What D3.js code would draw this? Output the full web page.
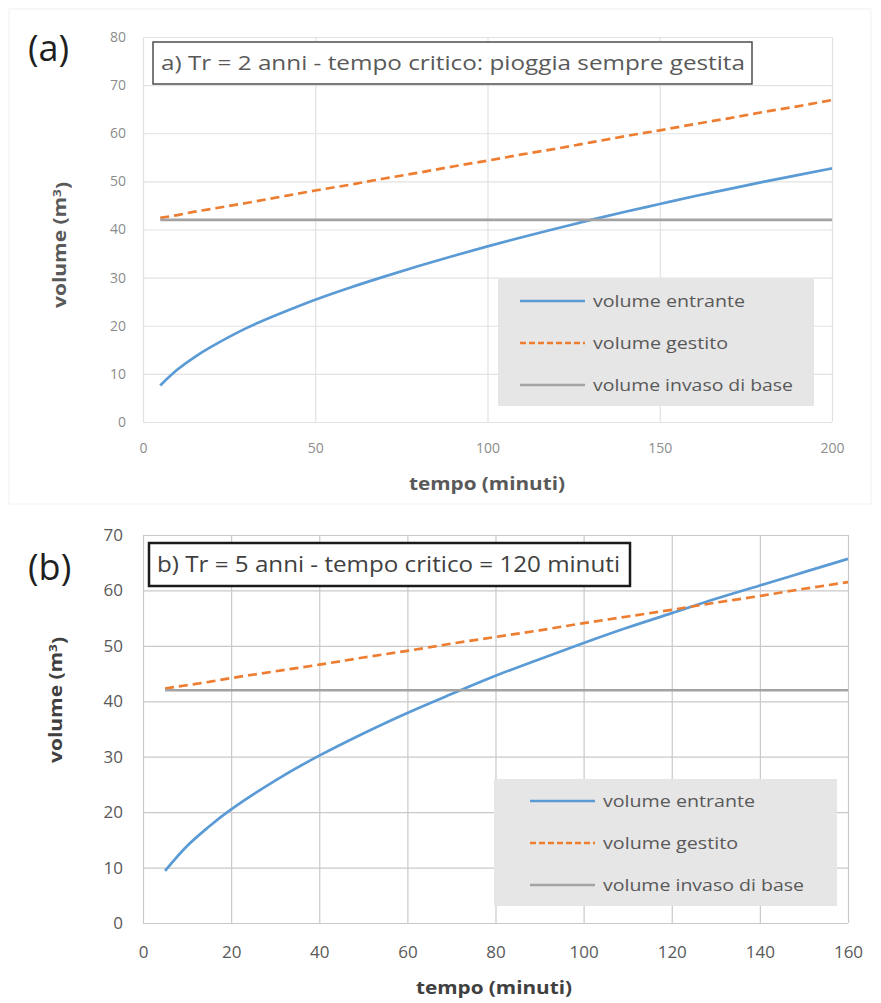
<!DOCTYPE html>
<html>
<head>
<meta charset="utf-8">
<script src="https://cdn.jsdelivr.net/npm/d3@7"></script>
<style>
  body { margin: 0; background: #fff; }
  svg { display: block; font-family: "Open Sans", "Noto Sans", sans-serif; }
</style>
</head>
<body>
<svg id="chart" width="881" height="1003"></svg>
<script>
// panel (a) - Tr = 2 anni
const timeA = [5, 10, 15, 20, 30, 40, 50, 60, 70, 80, 90, 100, 110, 120, 130, 140, 150, 160, 170, 180, 190, 200];
const entranteA = [7.6, 10.9, 13.5, 15.7, 19.5, 22.6, 25.4, 27.9, 30.2, 32.4, 34.5, 36.5, 38.4, 40.2, 42.0, 43.7, 45.3, 46.9, 48.4, 49.9, 51.3, 52.7];
const gestitoA = [42.4, 43.0, 43.7, 44.3, 45.5, 46.8, 48.1, 49.3, 50.6, 51.8, 53.1, 54.3, 55.6, 56.8, 58.1, 59.4, 60.6, 61.9, 63.1, 64.4, 65.6, 66.9];
const baseTimeA = [5, 200];
const baseA = [42, 42];
const xTicksA = [0, 50, 100, 150, 200];
const yTicksA = [0, 10, 20, 30, 40, 50, 60, 70, 80];

// panel (b) - Tr = 5 anni
const timeB = [5, 10, 15, 20, 30, 40, 50, 60, 70, 80, 90, 100, 110, 120, 130, 140, 150, 160];
const entranteB = [9.4, 13.9, 17.4, 20.5, 25.7, 30.2, 34.2, 37.9, 41.3, 44.6, 47.6, 50.5, 53.3, 55.9, 58.5, 60.9, 63.3, 65.7];
const gestitoB = [42.3, 42.9, 43.5, 44.2, 45.4, 46.6, 47.9, 49.1, 50.4, 51.6, 52.8, 54.1, 55.3, 56.5, 57.8, 59.0, 60.3, 61.5];
const baseTimeB = [5, 160];
const baseB = [42, 42];
const xTicksB = [0, 20, 40, 60, 80, 100, 120, 140, 160];
const yTicksB = [0, 10, 20, 30, 40, 50, 60, 70];

const seriesNames = ['volume entrante', 'volume gestito', 'volume invaso di base'];
const COLORS = { entrante: '#5b9bd5', gestito: '#ed7d31', base: '#a3a3a3' };

const svg = d3.select('#chart');

// faint frame round the upper chart
svg.append('rect').attr('x', 9).attr('y', 9).attr('width', 862).attr('height', 495)
  .attr('fill', 'none').attr('stroke', '#f2f2f2');

function drawPanel(p) {
  const g = svg.append('g');
  const x = d3.scaleLinear().domain([0, p.xTicks[p.xTicks.length - 1]]).range([p.left, p.right]);
  const y = d3.scaleLinear().domain([0, p.yTicks[p.yTicks.length - 1]]).range([p.bottom, p.top]);

  // grid
  const gy = g.append('g').attr('transform', `translate(${p.left},0)`)
    .call(d3.axisLeft(y).tickValues(p.yTicks).tickSize(-(p.right - p.left)).tickFormat(''));
  const gx = g.append('g').attr('transform', `translate(0,${p.bottom})`)
    .call(d3.axisBottom(x).tickValues(p.xTicks).tickSize(-(p.bottom - p.top)).tickFormat(''));
  [gy, gx].forEach(a => {
    a.select('.domain').remove();
    a.selectAll('line').attr('stroke', p.grid).attr('stroke-width', 1.2);
  });

  // tick labels
  const ly = g.append('g').attr('transform', `translate(${p.left},0)`)
    .call(d3.axisLeft(y).tickValues(p.yTicks).tickSize(0).tickPadding(p.padY));
  const lx = g.append('g').attr('transform', `translate(0,${p.bottom})`)
    .call(d3.axisBottom(x).tickValues(p.xTicks).tickSize(0).tickPadding(p.padX));
  [ly, lx].forEach(a => {
    a.select('.domain').remove();
    a.selectAll('text').attr('fill', p.tickColor).style('font-size', p.tickSize + 'px')
      .style('font-family', '"Open Sans", "Noto Sans", sans-serif');
  });

  // series
  const smooth = d3.line().x(d => x(d[0])).y(d => y(d[1])).curve(d3.curveNatural);
  const straight = d3.line().x(d => x(d[0])).y(d => y(d[1]));
  g.append('path').datum(d3.zip(p.time, p.entrante)).attr('d', smooth)
    .attr('fill', 'none').attr('stroke', COLORS.entrante).attr('stroke-width', 2.7);
  g.append('path').datum(d3.zip(p.time, p.gestito)).attr('d', straight)
    .attr('fill', 'none').attr('stroke', COLORS.gestito).attr('stroke-width', 2.7)
    .attr('stroke-dasharray', '9,5');
  g.append('path').datum(d3.zip(p.baseTime, p.base)).attr('d', straight)
    .attr('fill', 'none').attr('stroke', COLORS.base).attr('stroke-width', 2.6);

  // title box
  const t = p.title;
  g.append('rect').attr('x', t.x).attr('y', t.y).attr('width', t.w).attr('height', t.h)
    .attr('fill', '#fff').attr('stroke', t.stroke).attr('stroke-width', t.sw);
  g.append('text').attr('x', t.x + 8).attr('y', t.y + t.h / 2).attr('dy', '0.35em')
    .attr('fill', t.color).style('font-size', t.size + 'px')
    .attr('textLength', t.textW).attr('lengthAdjust', 'spacingAndGlyphs')
    .text(t.text);

  // legend
  const L = p.legend;
  g.append('rect').attr('x', L.x).attr('y', L.y).attr('width', L.w).attr('height', L.h)
    .attr('fill', '#e7e6e6');
  const styles = [
    { c: COLORS.entrante, dash: null },
    { c: COLORS.gestito, dash: '6,3' },
    { c: COLORS.base, dash: null }
  ];
  seriesNames.forEach((name, i) => {
    const cy = L.y + L.first + i * L.step;
    g.append('line').attr('x1', L.lx).attr('x2', L.lx + 65).attr('y1', cy).attr('y2', cy)
      .attr('stroke', styles[i].c).attr('stroke-width', 2.7)
      .attr('stroke-dasharray', styles[i].dash);
    g.append('text').attr('x', L.lx + 73).attr('y', cy).attr('dy', '0.35em')
      .attr('fill', '#595959').style('font-size', '17px')
      .attr('textLength', L.widths[i]).attr('lengthAdjust', 'spacingAndGlyphs')
      .text(name);
  });

  // axis titles
  g.append('text').attr('x', p.xLabel.x).attr('y', p.xLabel.y).attr('dy', '0.35em')
    .attr('text-anchor', 'middle').attr('fill', p.labelColor)
    .style('font-size', '17px').style('font-weight', 'bold')
    .attr('textLength', 156).attr('lengthAdjust', 'spacingAndGlyphs')
    .text('tempo (minuti)');
  const yl = g.append('text').attr('transform', `translate(${p.yLabel.x},${p.yLabel.y}) rotate(-90)`)
    .attr('dy', '0.35em').attr('text-anchor', 'middle').attr('fill', p.labelColor)
    .style('font-size', '17px').style('font-weight', 'bold')
    .attr('textLength', 126).attr('lengthAdjust', 'spacingAndGlyphs');
  yl.append('tspan').text('volume (m');
  yl.append('tspan').attr('dy', '-0.45em').style('font-size', '11px').text('3');
  yl.append('tspan').attr('dy', '0.45em').text(')');

  // panel letter
  svg.append('text').attr('x', p.letter.x).attr('y', p.letter.y)
    .attr('fill', '#1f1f1f').style('font-size', '36px').text(p.letter.text);
}

drawPanel({
  time: timeA, entrante: entranteA, gestito: gestitoA, baseTime: baseTimeA, base: baseA,
  xTicks: xTicksA, yTicks: yTicksA,
  left: 143, right: 832, top: 37, bottom: 422,
  grid: '#e2e2e2', tickColor: '#8c8c8c', tickSize: 14, padY: 17, padX: 21,
  labelColor: '#595959',
  title: { x: 153, y: 42, w: 599, h: 42, stroke: '#4d4d4d', sw: 1.5, color: '#595959', size: 20,
    textW: 584, text: 'a) Tr = 2 anni - tempo critico: pioggia sempre gestita' },
  legend: { x: 498, y: 279, w: 316, h: 127, first: 22, step: 42, lx: 520, widths: [152, 135, 200] },
  xLabel: { x: 487, y: 484 },
  yLabel: { x: 60, y: 245 },
  letter: { x: 28, y: 61, text: '(a)' }
});

drawPanel({
  time: timeB, entrante: entranteB, gestito: gestitoB, baseTime: baseTimeB, base: baseB,
  xTicks: xTicksB, yTicks: yTicksB,
  left: 143, right: 848, top: 535, bottom: 923,
  grid: '#c9c9c9', tickColor: '#595959', tickSize: 17, padY: 20, padX: 23,
  labelColor: '#404040',
  title: { x: 149, y: 543, w: 481, h: 43, stroke: '#1a1a1a', sw: 2.5, color: '#404040', size: 21,
    textW: 463, text: 'b) Tr = 5 anni - tempo critico = 120 minuti' },
  legend: { x: 494, y: 779, w: 343, h: 127, first: 22, step: 42, lx: 530, widths: [152, 135, 201] },
  xLabel: { x: 494, y: 988 },
  yLabel: { x: 56, y: 700 },
  letter: { x: 28, y: 580, text: '(b)' }
});
</script>
</body>
</html>
